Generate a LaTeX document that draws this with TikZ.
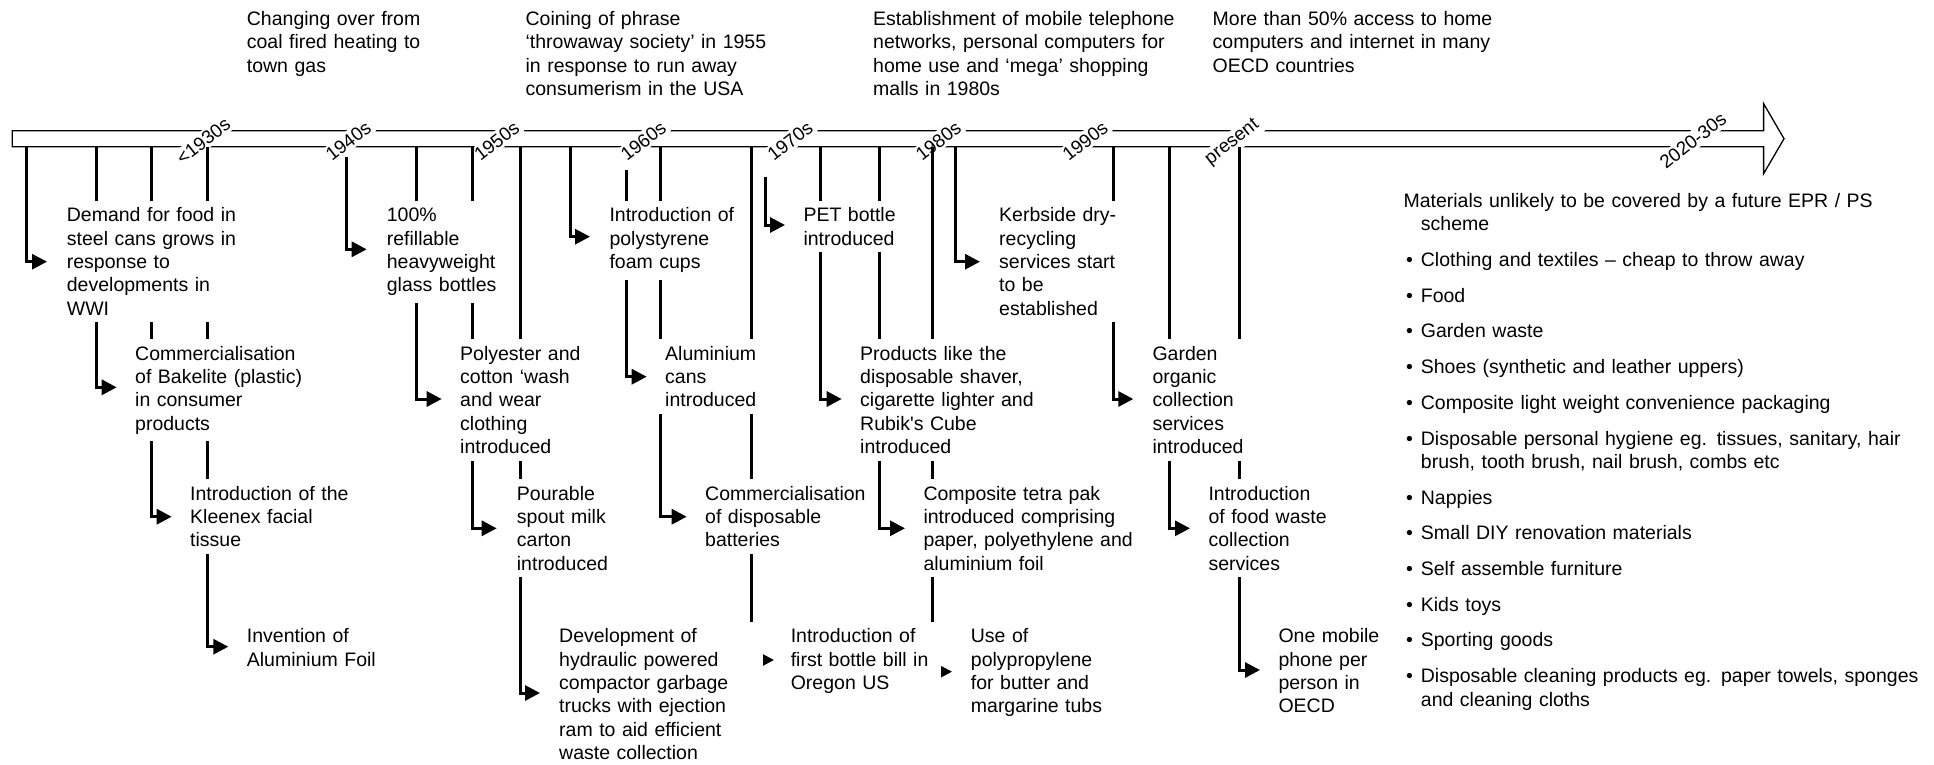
\documentclass[tikz,border=0pt]{standalone}
\usepackage{fontspec}
\setmainfont{Liberation Sans}
\usetikzlibrary{arrows.meta}
\newcommand\evfont{\fontsize{19.5}{23.4}\selectfont}
\newcommand\labfont{\fontsize{18.8}{21}\selectfont}
\newcommand\lstbul{\makebox[17.4pt][l]{\hspace{2.5pt}\textbullet}}
\newcommand\lstind{\hspace*{17.4pt}}
\tikzset{
  evt/.style={anchor=base west, fill=white, inner xsep=7pt, inner ysep=7pt, align=left, font=\evfont},
  toptxt/.style={anchor=base west, inner xsep=0pt, inner ysep=0pt, align=left, font=\evfont},
  lab/.style={rotate=38, fill=white, inner sep=2.5pt, font=\labfont},
  conn/.style={line width=3pt, -{Triangle[length=15pt,width=15pt]}},
  band/.style={line width=1.3pt, draw=black},
}
\begin{document}
\begin{tikzpicture}[x=1pt,y=-1pt]
\fill[white] (0,0) rectangle (1934,764);
\useasboundingbox (0,0) rectangle (1934,764);

% timeline band with arrow head
\draw[band] (12.3,130.7) -- (1763.6,130.7) -- (1763.6,103.7) -- (1784,138.7)
  -- (1763.6,173.7) -- (1763.6,146.7) -- (12.3,146.7) -- cycle;

% decade labels
\node[lab] (d1930) at (203.3,141) {<1930s};
\node[lab] (d1940) at (348.3,141) {1940s};
\node[lab] (d1950) at (496.7,141) {1950s};
\node[lab] (d1960) at (643.3,141) {1960s};
\node[lab] (d1970) at (790,141) {1970s};
\node[lab] (d1980) at (938.3,141) {1980s};
\node[lab] (d1990) at (1085,141) {1990s};
\node[lab] (dpres) at (1232.5,142.5) {present};
\node[lab] (d2020) at (1693,140.6) {2020-30s};

% connector end points
\coordinate (sA) at (26,146.7);     \coordinate (tA) at (47,261.7);
\coordinate (sB) at (96,146.7);     \coordinate (tB) at (116.7,387.3);
\coordinate (sC) at (151.7,146.7);  \coordinate (tC) at (171.7,516.7);
\coordinate (sD) at (207.3,146.7);  \coordinate (tD) at (228.3,646.7);
\coordinate (sE) at (346.7,157);    \coordinate (tE) at (366.7,249.3);
\coordinate (sF) at (416,146.7);    \coordinate (tF) at (441.7,399);
\coordinate (sG) at (472.7,146.7);  \coordinate (tG) at (496.7,528.3);
\coordinate (sH) at (520,146.7);    \coordinate (tH) at (540,693);
\coordinate (sI) at (570,146.7);    \coordinate (tI) at (590,236.7);
\coordinate (sL) at (626.7,170);    \coordinate (tL) at (646.7,376.7);
\coordinate (sO) at (660.7,146.7);  \coordinate (tO) at (686.7,516.7);
\coordinate (sR) at (751,146.7);    \coordinate (tR) at (774,660);
\coordinate (sJ) at (765,176.7);    \coordinate (tJ) at (785,225);
\coordinate (sM) at (820.7,146.7);  \coordinate (tM) at (841.7,399);
\coordinate (sP) at (879.3,146.7);  \coordinate (tP) at (905,528.3);
\coordinate (sS) at (932.3,146.7);  \coordinate (tS) at (952,671.7);
\coordinate (sK) at (955,146.7);    \coordinate (tK) at (980,261.7);
\coordinate (sN) at (1113.3,146.7); \coordinate (tN) at (1133.3,399);
\coordinate (sQ) at (1169.3,146.7); \coordinate (tQ) at (1190,528.3);
\coordinate (sT) at (1239.3,146.7); \coordinate (tT) at (1260,670);

\foreach \k in {A,B,C,D,E,F,G,H,I,L,O,R,J,M,P,S,K,N,Q,T}
  \draw[conn] (s\k) |- (t\k);

% top notes
\node[toptxt, text width=200pt] (n1) at (246.7,25.2) {Changing over from\\coal fired heating to\\town gas};
\node[toptxt, text width=250pt] (n2) at (525.4,25.2) {Coining of phrase\\‘throwaway society’ in 1955\\in response to run away\\consumerism in the USA};
\node[toptxt, text width=310pt] (n3) at (873,25.2) {Establishment of mobile telephone\\networks, personal computers for\\home use and ‘mega’ shopping\\malls in 1980s};
\node[toptxt, text width=290pt] (n4) at (1212.5,25.2) {More than 50\% access to home\\computers and internet in many\\OECD countries};

% events
\node[evt, text width=170pt] (A) at (59.7,221.7) {Demand for food in\\steel cans grows in\\response to\\developments in\\WWI};
\node[evt, text width=115pt] (E) at (379.7,221.7) {100\%\\refillable\\heavyweight\\glass bottles};
\node[evt, text width=128pt] (I) at (602.3,221.7) {Introduction of\\polystyrene\\foam cups};
\node[evt, text width=96pt] (J) at (796.3,221.7) {PET bottle\\introduced};
\node[evt, text width=122pt] (K) at (992,221.7) {Kerbside dry-\\recycling\\services start\\to be\\established};

\node[evt, text width=170pt] (B) at (128,360) {Commercialisation\\of Bakelite (plastic)\\in consumer\\products};
\node[evt, text width=125pt] (F) at (453,360) {Polyester and\\cotton ‘wash\\and wear\\clothing\\introduced};
\node[evt, text width=96pt] (L) at (658,360) {Aluminium\\cans\\introduced};
\node[evt, text width=176pt] (M) at (853,360) {Products like the\\disposable shaver,\\cigarette lighter and\\Rubik\textquotesingle s Cube\\introduced};
\node[evt, text width=96pt] (N) at (1145.3,360) {Garden\\organic\\collection\\services\\introduced};

\node[evt, text width=162pt] (C) at (183,500) {Introduction of the\\Kleenex facial\\tissue};
\node[evt, text width=96pt] (G) at (509.7,500) {Pourable\\spout milk\\carton\\introduced};
\node[evt, text width=162pt] (O) at (698,500) {Commercialisation\\of disposable\\batteries};
\node[evt, text width=213pt] (P) at (916.3,500) {Composite tetra pak\\introduced comprising\\paper, polyethylene and\\aluminium foil};
\node[evt, text width=121pt] (Q) at (1201.3,500) {Introduction\\of food waste\\collection\\services};

\node[evt, text width=135pt] (D) at (239.7,642.7) {Invention of\\Aluminium Foil};
\node[evt, text width=197pt] (H) at (552,642.7) {Development of\\hydraulic powered\\compactor garbage\\trucks with ejection\\ram to aid efficient\\waste collection};
\node[evt, text width=143pt] (R) at (783.6,642.7) {Introduction of\\first bottle bill in\\Oregon US};
\node[evt, text width=136pt] (S) at (963.7,642.7) {Use of\\polypropylene\\for butter and\\margarine tubs};
\node[evt, text width=105pt] (T) at (1271.3,642.7) {One mobile\\phone per\\person in\\OECD};

% list of materials
\node[evt, inner xsep=0pt, text width=520pt] (list) at (1403.3,207.4) {Materials unlikely to be covered by a future EPR / PS\\
\lstind scheme\\[12.3pt]
\lstbul Clothing and textiles – cheap to throw away\\[12.3pt]
\lstbul Food\\[12.3pt]
\lstbul Garden waste\\[12.3pt]
\lstbul Shoes (synthetic and leather uppers)\\[12.3pt]
\lstbul Composite light weight convenience packaging\\[12.3pt]
\lstbul Disposable personal hygiene eg. tissues, sanitary, hair\\
\lstind brush, tooth brush, nail brush, combs etc\\[12.3pt]
\lstbul Nappies\\[12.3pt]
\lstbul Small DIY renovation materials\\[12.3pt]
\lstbul Self assemble furniture\\[12.3pt]
\lstbul Kids toys\\[12.3pt]
\lstbul Sporting goods\\[12.3pt]
\lstbul Disposable cleaning products eg. paper towels, sponges\\
\lstind and cleaning cloths};
\end{tikzpicture}
\end{document}
